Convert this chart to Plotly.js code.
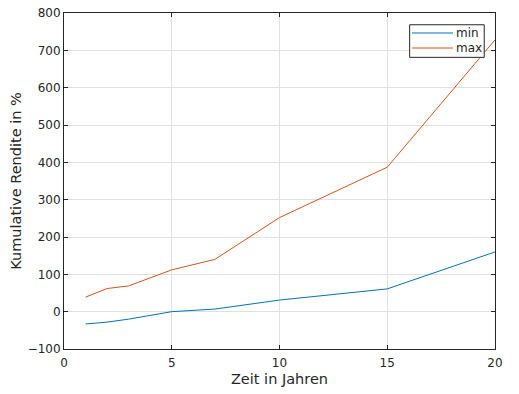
<!DOCTYPE html>
<html>
<head>
<meta charset="utf-8">
<script src="https://cdn.plot.ly/plotly-3.0.1.min.js"></script>
<style>html,body{margin:0;padding:0;background:#fff;}#chart{width:519px;height:394px;}</style>
</head>
<body>
<div id="chart"></div>
<script>
const years = [1, 2, 3, 5, 7, 10, 15, 20];
const minValues = [-33, -28, -20, 0, 7, 31, 61, 160];
const maxValues = [39, 62, 69, 112, 140, 252, 387, 728];
const seriesNames = ['min', 'max'];
const seriesColors = ['#0072BD', '#D95319'];
const xTicks = [0, 5, 10, 15, 20];
const yTicks = [-100, 0, 100, 200, 300, 400, 500, 600, 700, 800];

const traces = [
  {x: years, y: minValues, name: seriesNames[0], mode: 'lines', line: {color: seriesColors[0], width: 1}, showlegend: false},
  {x: years, y: maxValues, name: seriesNames[1], mode: 'lines', line: {color: seriesColors[1], width: 1}, showlegend: false}
];

const txt = '#262626';
const axisCommon = {
  showline: true, mirror: 'ticks', linecolor: txt, linewidth: 1,
  ticks: 'inside', ticklen: 4, tickcolor: txt,
  showgrid: true, gridcolor: '#e0e0e0', gridwidth: 1, zeroline: false,
  tickfont: {family: 'DejaVu Sans', size: 12, color: txt}
};

// compact MATLAB-style legend (box, line samples, labels)
const legBox = {x0: 0.802, x1: 0.975, y0: 0.868, y1: 0.965};
const legRows = [0.9405, 0.8958];
const shapes = [
  {type: 'rect', xref: 'paper', yref: 'paper', x0: legBox.x0, x1: legBox.x1, y0: legBox.y0, y1: legBox.y1,
   line: {color: txt, width: 1}, fillcolor: '#fff', layer: 'above'}
];
const annotations = [];
seriesNames.forEach((n, i) => {
  shapes.push({type: 'line', xref: 'paper', yref: 'paper', x0: 0.8074, x1: 0.9026, y0: legRows[i], y1: legRows[i],
    line: {color: seriesColors[i], width: 1}, layer: 'above'});
  annotations.push({xref: 'paper', yref: 'paper', x: 0.905, y: legRows[i], xanchor: 'left', yanchor: 'middle',
    text: n, showarrow: false, font: {family: 'DejaVu Sans', size: 12, color: txt}});
});

const layout = {
  width: 519, height: 394,
  margin: {l: 64, r: 24, t: 13, b: 45},
  paper_bgcolor: '#fff', plot_bgcolor: '#fff',
  showlegend: false,
  shapes: shapes,
  annotations: annotations,
  xaxis: Object.assign({}, axisCommon, {
    range: [0, 20], tickvals: xTicks, ticklabelstandoff: 3,
    title: {text: 'Zeit in Jahren', font: {family: 'DejaVu Sans', size: 14.5, color: txt}, standoff: 4}
  }),
  yaxis: Object.assign({}, axisCommon, {
    range: [-100, 800], tickvals: yTicks,
    title: {text: 'Kumulative Rendite in %', font: {family: 'DejaVu Sans', size: 14.5, color: txt}, standoff: 2}
  })
};

Plotly.newPlot('chart', traces, layout, {displayModeBar: false, staticPlot: true});
</script>
</body>
</html>
